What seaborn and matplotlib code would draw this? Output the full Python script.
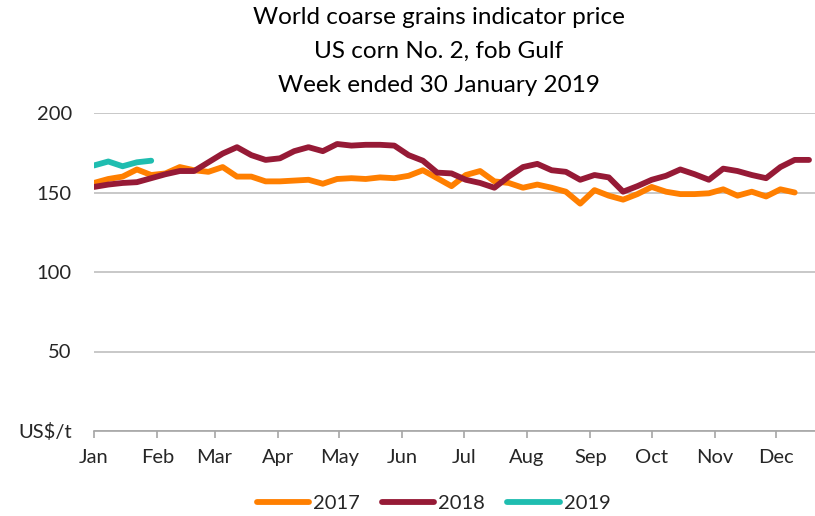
import numpy as np
import pandas as pd
import matplotlib
matplotlib.use('Agg')
import matplotlib.pyplot as plt
import seaborn as sns

# weekly prices, US$/t (week 1 = first week of January)
price_2017 = [156, 158.5, 160, 164.5, 161, 162, 166, 164, 163, 166,
              160, 160, 157, 157, 157.5, 158, 155.5, 158.5, 159, 158.5,
              159.5, 159, 160.5, 164, 159, 154, 161, 163.5, 157, 156,
              153, 155, 153, 150.5, 143, 151.5, 148, 145.5, 149, 153.5,
              150.5, 149, 149, 149.5, 152, 148, 150.5, 147.5, 152, 150]
price_2018 = [153.5, 155, 156, 156.5, 159, 161.5, 163.5, 163.5, 169, 174.5,
              178.5, 173.5, 170.5, 171.5, 176, 178.5, 176, 180.5, 179.5, 180,
              180, 179.5, 173.5, 170, 162.5, 162, 158, 156, 153, 160,
              166, 168, 164, 163, 158, 161, 159.5, 150.5, 154, 158,
              160.5, 164.5, 161.5, 158, 165, 163.5, 161, 159, 166, 170.5,
              170.5]
price_2019 = [167, 169.5, 166.5, 169, 170]

months = ['Jan', 'Feb', 'Mar', 'Apr', 'May', 'Jun',
          'Jul', 'Aug', 'Sep', 'Oct', 'Nov', 'Dec']
month_days = [31, 28, 31, 30, 31, 30, 31, 31, 30, 31, 30, 31]
y_ticks = [0, 50, 100, 150, 200]
y_labels = ['US$/t', '50', '100', '150', '200']

colors = {'2017': '#FF7F00', '2018': '#961A36', '2019': '#1FBDB0'}

frames = []
for year, vals in [('2017', price_2017), ('2018', price_2018), ('2019', price_2019)]:
    frames.append(pd.DataFrame({'week': np.arange(len(vals)), 'price': vals, 'year': year}))
df = pd.concat(frames, ignore_index=True)

sns.set_style('white')
plt.rcParams['font.family'] = ['Lato', 'DejaVu Sans']

fig = plt.figure(figsize=(8.15, 5.16), dpi=100)
ax = fig.add_axes([94 / 815, 85 / 516, 721 / 815, 318 / 516])

sns.lineplot(data=df, x='week', y='price', hue='year', palette=colors,
             linewidth=4.2, ax=ax, legend=False, solid_capstyle='round')

# month ticks at first day of each month, in weeks
month_pos = np.concatenate([[0], np.cumsum(month_days)[:-1]]) / 7
ax.set_xticks(month_pos)
ax.set_xticklabels(months, fontsize=14.5, color='#262626')
ax.set_xlim(0, 721 / 14.3)
ax.set_ylim(0, 200)
ax.set_yticks(y_ticks)
ax.set_yticklabels(y_labels, fontsize=14.5, color='#262626')
ax.set_xlabel('')
ax.set_ylabel('')

ax.grid(axis='y', color='#bfbfbf', linewidth=1.2)
ax.grid(axis='x', visible=False)
for s in ['left', 'right', 'top']:
    ax.spines[s].set_visible(False)
ax.spines['bottom'].set_color('#a6a6a6')
ax.spines['bottom'].set_linewidth(1.2)
ax.tick_params(axis='x', direction='out', length=5, width=1.2, color='#a6a6a6', pad=8, bottom=True)
ax.tick_params(axis='y', length=0, pad=16)

title_lines = ['World coarse grains indicator price', 'US corn No. 2, fob Gulf', 'Week ended 30 January 2019']
for line, ypx in zip(title_lines, [18, 51, 85]):
    fig.text(0.538, 1 - ypx / 516, line, ha='center', va='center', fontsize=17.5, color='black')

handles = [plt.Line2D([], [], color=colors[y], linewidth=4.2, solid_capstyle='round') for y in ['2017', '2018', '2019']]
fig.legend(handles, ['2017', '2018', '2019'], loc='center', bbox_to_anchor=(0.532, 1 - 503 / 516),
           ncol=3, frameon=False, fontsize=14.5, handlelength=2.6, handletextpad=0.2, columnspacing=1.1)

fig.savefig('out.png', dpi=100)
